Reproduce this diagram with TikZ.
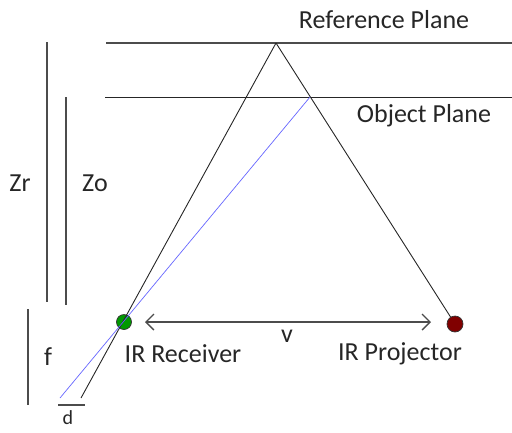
\documentclass[tikz,border=0pt]{standalone}
\usepackage{fontspec}
\setmainfont{Carlito}
\usetikzlibrary{arrows.meta}
\begin{document}
\begin{tikzpicture}[x=1pt,y=-1pt,
  ln/.style={draw=black!70,line width=1.4pt},
  thin/.style={draw=black!85,line width=0.9pt},
  lbl/.style={font=\fontsize{26}{26}\selectfont,text=black!85,inner sep=0pt}]
\useasboundingbox (0,0) rectangle (512,432);
% planes
\coordinate (rpL) at (106,43); \coordinate (rpR) at (512,43);
\coordinate (opL) at (105,97); \coordinate (opR) at (512,97);
\draw[ln] (rpL) -- (rpR);
\draw[thin] (opL) -- (opR);
\coordinate (apex) at (276,43);
\coordinate (dend) at (81,398);
\coordinate (bend) at (60,398);
\coordinate (bstart) at (310,97);
% receiver and projector
\node[circle,draw=black!80,fill=green!60!black,minimum size=15pt,inner sep=0pt,line width=0.7pt] (rec) at (124,322) {};
\node[circle,draw=black!80,fill=red!50!black,minimum size=16pt,inner sep=0pt,line width=0.7pt] (proj) at (455,324) {};
\draw[thin] (apex) -- (dend);
\draw[thin] (apex) -- (proj);
\draw[draw=blue!60,line width=0.7pt] (bstart) -- (bend);
% baseline arrow
\coordinate (aL) at (145,322); \coordinate (aR) at (431,322);
\draw[ln,{Straight Barb[length=8pt,width=16pt]}-{Straight Barb[length=8pt,width=16pt]}] (aL) -- (aR);
% dimension lines
\coordinate (zr1) at (47,42); \coordinate (zr2) at (47,302);
\coordinate (zo1) at (66,97); \coordinate (zo2) at (66,305);
\coordinate (f1) at (28,309); \coordinate (f2) at (28,405);
\coordinate (d1) at (58,405); \coordinate (d2) at (85,405);
\draw[ln] (zr1) -- (zr2);
\draw[ln] (zo1) -- (zo2);
\draw[ln] (f1) -- (f2);
\draw[ln] (d1) -- (d2);
% labels
\node[lbl] (tRP) at (384,20) {Reference Plane};
\node[lbl] (tOP) at (424,116) {Object Plane};
\node[lbl] (tZr) at (20,183) {Zr};
\node[lbl] (tZo) at (95,183) {Zo};
\node[lbl] (tf) at (48,357) {f};
\node[lbl,font=\fontsize{20}{20}\selectfont,anchor=base] (td) at (68,424) {d};
\node[lbl] (tv) at (287,336) {v};
\node[lbl] (tRec) at (183,354) {IR Receiver};
\node[lbl] (tProj) at (400,354) {IR Projector};
\end{tikzpicture}
\end{document}
